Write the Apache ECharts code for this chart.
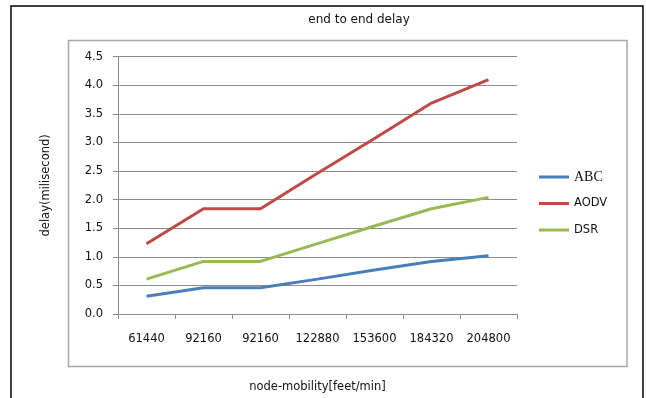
<!DOCTYPE html>
<html>
<head>
<meta charset="utf-8">
<script src="https://cdn.jsdelivr.net/npm/echarts@6/dist/echarts.min.js"></script>
<style>
  html, body { margin: 0; padding: 0; background: #ffffff; }
  #chart { width: 646px; height: 398px; }
</style>
</head>
<body>
<div id="chart"></div>
<script>
// Node mobility (feet/min) on the x axis
const categories = ['61440', '92160', '92160', '122880', '153600', '184320', '204800'];

// End-to-end delay per protocol (milliseconds)
const abcDelay  = [0.31, 0.46, 0.46, 0.61, 0.77, 0.92, 1.02];
const aodvDelay = [1.23, 1.84, 1.84, 2.46, 3.07, 3.69, 4.10];
const dsrDelay  = [0.61, 0.92, 0.92, 1.23, 1.54, 1.84, 2.04];

const seriesNames = ['ABC', 'AODV', 'DSR'];
const seriesColors = ['#4a7ebb', '#be4b48', '#98b954'];

const font = 'DejaVu Sans';
const axisGray = '#8c8c8c';
const textColor = '#111111';

const chart = echarts.init(document.getElementById('chart'), null, { renderer: 'canvas' });

function lineSeries(name, data, color) {
  return {
    name: name,
    type: 'line',
    data: data,
    symbol: 'none',
    smooth: false,
    lineStyle: { color: color, width: 3 },
    itemStyle: { color: color },
    z: 3
  };
}

chart.setOption({
  animation: false,
  backgroundColor: '#ffffff',
  title: {
    text: 'end to end delay',
    left: 354,
    textAlign: 'center',
    top: 9,
    textStyle: { fontFamily: font, fontSize: 12, fontWeight: 'normal', color: textColor }
  },
  grid: { left: 118, right: 129, top: 56.7, bottom: 81, containLabel: false },
  legend: {
    orient: 'vertical',
    left: 539,
    top: 170,
    padding: 0,
    icon: 'rect',
    itemWidth: 30,
    itemHeight: 3,
    itemGap: 12.5,
    data: seriesNames,
    textStyle: {
      fontFamily: font, fontSize: 11.5, color: textColor, lineHeight: 14,
      rich: { serif: { fontFamily: 'Liberation Serif', fontSize: 14, color: textColor } }
    },
    formatter: function (name) {
      return name === 'ABC' ? '{serif|' + name + '}' : name;
    }
  },
  xAxis: {
    type: 'category',
    data: categories,
    boundaryGap: true,
    name: 'node-mobility[feet/min]',
    nameLocation: 'middle',
    nameGap: 67,
    nameTextStyle: { fontFamily: font, fontSize: 11.5, color: textColor },
    axisLine: { show: true, lineStyle: { color: axisGray, width: 1 } },
    axisTick: { show: true, length: 5, alignWithLabel: false, lineStyle: { color: axisGray } },
    axisLabel: { margin: 19, fontFamily: font, fontSize: 11.5, color: textColor, interval: 0 },
    splitLine: { show: false }
  },
  yAxis: {
    type: 'value',
    min: 0,
    max: 4.5,
    interval: 0.5,
    name: 'delay(milisecond)',
    nameLocation: 'middle',
    nameRotate: 90,
    nameGap: 66,
    nameTextStyle: { fontFamily: font, fontSize: 11.5, color: textColor },
    axisLine: { show: true, lineStyle: { color: axisGray, width: 1 } },
    axisTick: { show: true, length: 5, lineStyle: { color: axisGray } },
    axisLabel: {
      margin: 15, fontFamily: font, fontSize: 11.5, color: textColor,
      formatter: function (v) { return v.toFixed(1); }
    },
    splitLine: { show: true, lineStyle: { color: axisGray, width: 1 } }
  },
  series: [
    lineSeries(seriesNames[0], abcDelay, seriesColors[0]),
    lineSeries(seriesNames[1], aodvDelay, seriesColors[1]),
    lineSeries(seriesNames[2], dsrDelay, seriesColors[2])
  ],
  graphic: [
    {
      type: 'rect',
      shape: { x: 11, y: 6, width: 632, height: 400 },
      style: { fill: null, stroke: '#000000', lineWidth: 1.5 },
      silent: true, z: -1
    },
    {
      type: 'rect',
      shape: { x: 68.5, y: 40.5, width: 558.5, height: 326 },
      style: { fill: null, stroke: '#a6a6a6', lineWidth: 1.5 },
      silent: true, z: -1
    }
  ]
});
</script>
</body>
</html>
